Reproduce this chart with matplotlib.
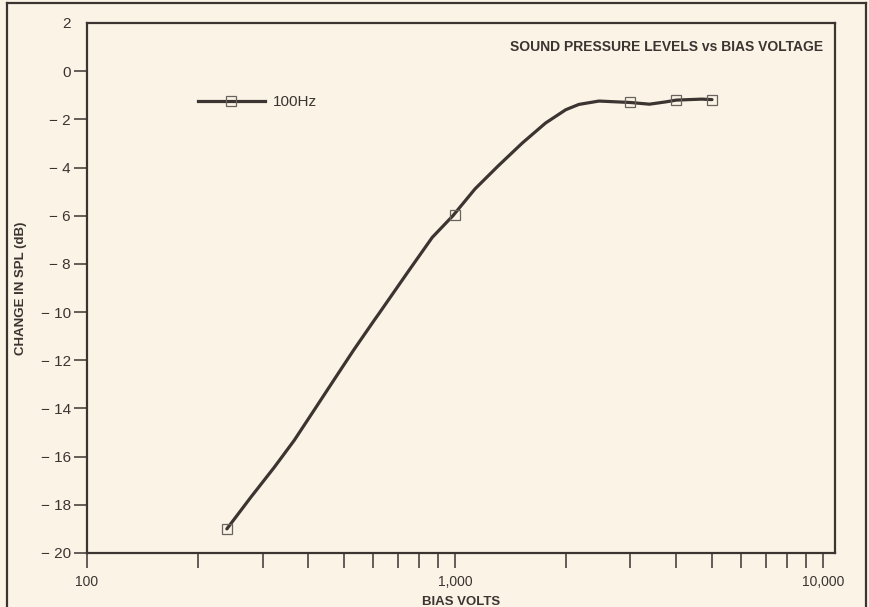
import matplotlib
matplotlib.use('Agg')
from matplotlib import pyplot as plt
from matplotlib.lines import Line2D

# marker points (bias volts, change in SPL dB)
marker_volts = [240, 1000, 3000, 4000, 5000]
marker_db = [-19.0, -5.95, -1.3, -1.18, -1.18]

# trace of the drawn curve
curve_volts = [240, 279, 323, 366, 414, 468, 530, 603, 622, 748, 868, 988,
               1134, 1312, 1526, 1765, 2002, 2173, 2465, 3000, 3380, 3760,
               4000, 4690, 5000]
curve_db = [-19.0, -17.68, -16.44, -15.32, -14.08, -12.84, -11.59, -10.35,
            -10.06, -8.3, -6.9, -6.0, -4.89, -3.93, -2.98, -2.15, -1.6,
            -1.38, -1.24, -1.3, -1.37, -1.27, -1.2, -1.16, -1.18]

y_ticks = [2, 0, -2, -4, -6, -8, -10, -12, -14, -16, -18, -20]
x_major = [100, 1000, 10000]
x_major_labels = ['100', '1,000', '10,000']
x_minor = [200, 300, 400, 500, 600, 700, 800, 900,
           2000, 3000, 4000, 5000, 6000, 7000, 8000, 9000]

bg = '#faf3e6'
ink = '#3b3431'

plt.rcParams['font.family'] = ['Liberation Sans', 'DejaVu Sans']
fig = plt.figure(figsize=(8.7, 6.07), dpi=100, facecolor=bg)
ax = fig.add_axes([87 / 870, 1 - 553 / 607, 748 / 870, 530 / 607])
ax.set_facecolor(bg)

ax.plot(curve_volts, curve_db, color=ink, linewidth=2.3,
        solid_capstyle='round', solid_joinstyle='round')
ax.plot(marker_volts, marker_db, linestyle='none', marker='s', markersize=7,
        markerfacecolor='none', markeredgecolor='#6a625c', markeredgewidth=0.9)

ax.set_xscale('log')
ax.set_xlim(100, 10800)
ax.set_ylim(-20, 2)

ax.set_xticks(x_major)
ax.set_xticklabels(x_major_labels)
ax.set_xticks(x_minor, minor=True)
ax.set_xticklabels([], minor=True)
ax.set_yticks(y_ticks)
ax.set_yticklabels([str(v).replace('-', '\u2212 ') for v in y_ticks])
ax.yaxis.get_major_ticks()[0].tick1line.set_visible(False)

ax.tick_params(axis='x', which='both', direction='out', length=11, width=1.1,
               colors=ink, labelsize=10, pad=5)
ax.tick_params(axis='y', direction='out', length=9.5, width=1.1, colors=ink,
               labelsize=11, pad=2)
for s in ax.spines.values():
    s.set_color(ink)
    s.set_linewidth(1.6)

ax.set_ylabel('CHANGE IN SPL (dB)', fontsize=9.5, fontweight='bold', color=ink,
              labelpad=10)
ax.set_xlabel('BIAS VOLTS', fontsize=9.5, fontweight='bold', color=ink,
              labelpad=5)
ax.text(0.984, 0.955, 'SOUND PRESSURE LEVELS vs BIAS VOLTAGE', transform=ax.transAxes,
        ha='right', va='center', fontsize=10, fontweight='bold', color=ink)

handle = Line2D([], [], color=ink, linewidth=2.3, marker='s', markersize=7,
                markerfacecolor='none', markeredgecolor='#6a625c', markeredgewidth=0.9)
ax.legend([handle], ['100Hz'], loc='center left', bbox_to_anchor=(0.148, 0.851),
          frameon=False, handlelength=4.4, handletextpad=0.5, borderpad=0,
          borderaxespad=0, fontsize=11, labelcolor=ink, numpoints=1)

# outer frame of the printed figure
fig.add_artist(Line2D([7 / 870, 7 / 870], [0, 1 - 3 / 607], transform=fig.transFigure,
                      color=ink, linewidth=1.6))
fig.add_artist(Line2D([7 / 870, 866 / 870], [1 - 3 / 607, 1 - 3 / 607],
                      transform=fig.transFigure, color=ink, linewidth=1.6))
fig.add_artist(Line2D([866 / 870, 866 / 870], [0, 1 - 3 / 607], transform=fig.transFigure,
                      color=ink, linewidth=1.6))

fig.savefig('out.png', dpi=100, facecolor=bg)
